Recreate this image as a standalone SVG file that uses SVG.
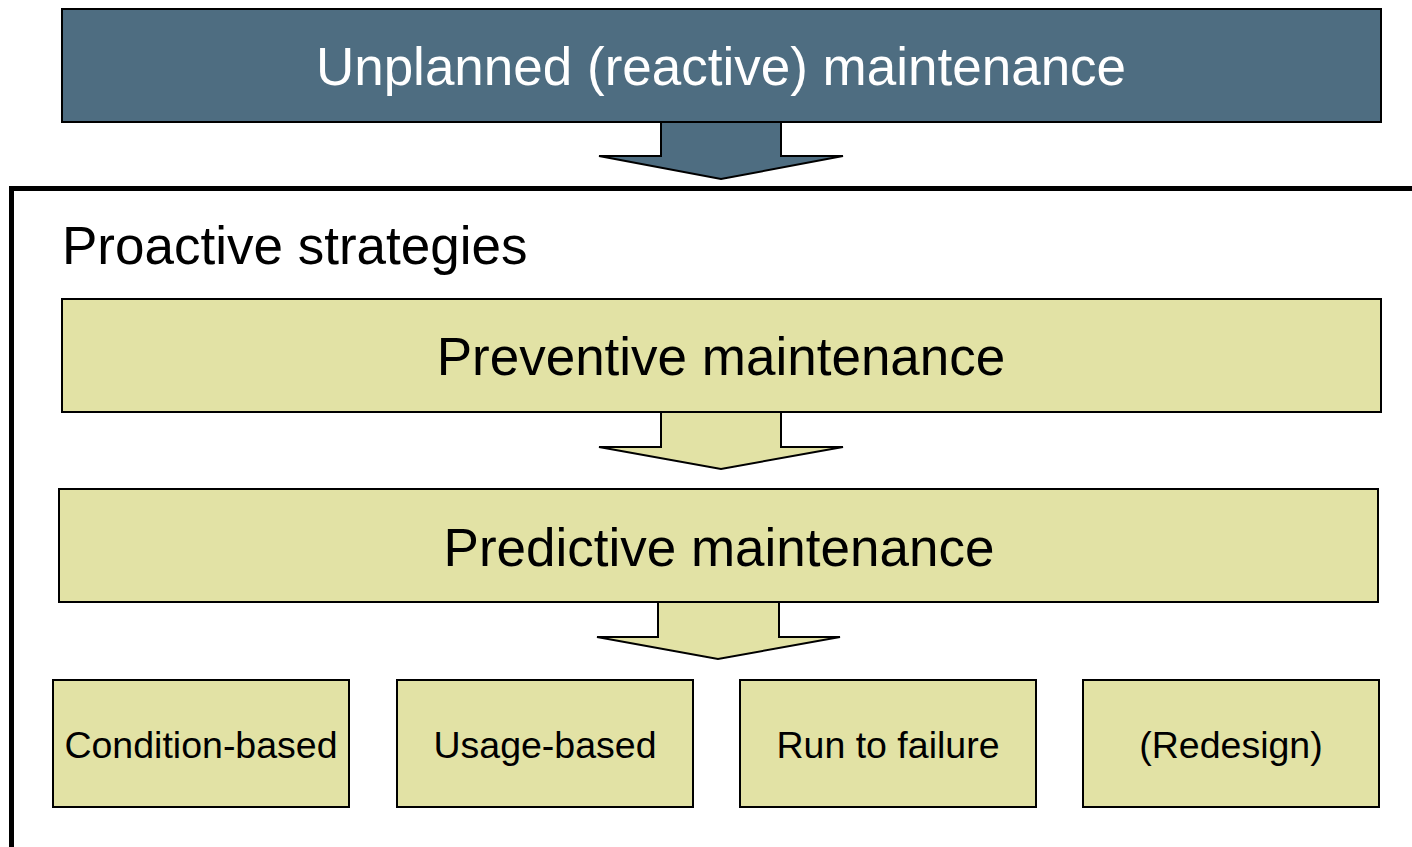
<svg xmlns="http://www.w3.org/2000/svg" width="1412" height="847" viewBox="0 0 1412 847">
  <style>
    .lbl { font-family: "Liberation Sans", Arial, sans-serif; text-anchor: middle; fill: #000; }
    .big { font-size: 53px; }
    .small { font-size: 37.5px; }
    .khaki { fill: #e2e2a5; stroke: #000; stroke-width: 2; }
    .slate { fill: #4e6d81; stroke: #000; stroke-width: 2; }
    .frame { fill: none; stroke: #000; stroke-width: 5; }
  </style>
  <rect width="1412" height="847" fill="#fff"/>

  <!-- proactive strategies frame -->
  <polyline class="frame" points="1412,188.5 11.5,188.5 11.5,847"/>
  <text x="62" y="264" font-family="Liberation Sans, Arial, sans-serif" font-size="53">Proactive strategies</text>

  <g id="connectors">
    <polygon class="slate" points="661,121 781,121 781,156 843,156 721,179 599,156 661,156"/>
    <polygon class="khaki" points="661,411 781,411 781,447 843,447 721,469 599,447 661,447"/>
    <polygon class="khaki" points="658,601 779,601 779,637 840,637 718,659 597,637 658,637"/>
  </g>

  <g id="unplanned">
    <rect class="slate" x="62" y="9" width="1319" height="113"/>
    <text class="lbl big" x="721" y="85" style="fill:#fff">Unplanned (reactive) maintenance</text>
  </g>

  <g id="preventive">
    <rect class="khaki" x="62" y="299" width="1319" height="113"/>
    <text class="lbl big" x="721" y="375">Preventive maintenance</text>
  </g>

  <g id="predictive">
    <rect class="khaki" x="59" y="489" width="1319" height="113"/>
    <text class="lbl big" x="719" y="566">Predictive maintenance</text>
  </g>

  <g id="condition-based">
    <rect class="khaki" x="53" y="680" width="296" height="127"/>
    <text class="lbl small" x="201" y="758">Condition-based</text>
  </g>

  <g id="usage-based">
    <rect class="khaki" x="397" y="680" width="296" height="127"/>
    <text class="lbl small" x="545" y="758">Usage-based</text>
  </g>

  <g id="run-to-failure">
    <rect class="khaki" x="740" y="680" width="296" height="127"/>
    <text class="lbl small" x="888" y="758">Run to failure</text>
  </g>

  <g id="redesign">
    <rect class="khaki" x="1083" y="680" width="296" height="127"/>
    <text class="lbl small" x="1231" y="758">(Redesign)</text>
  </g>
</svg>
